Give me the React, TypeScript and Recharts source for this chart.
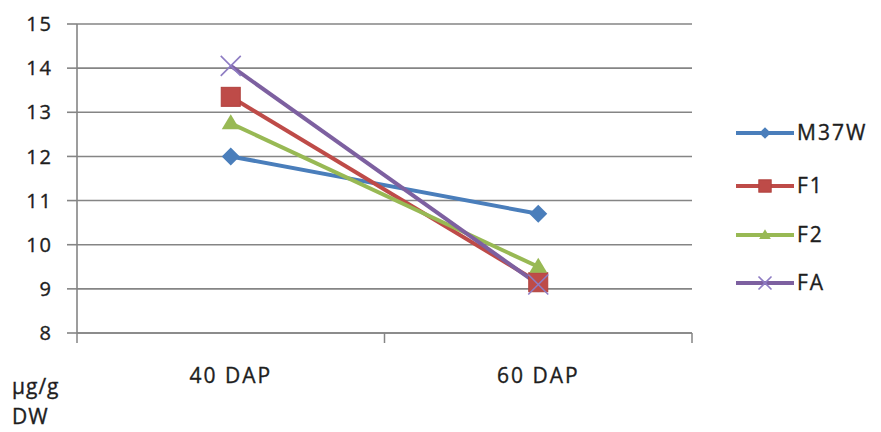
import { LineChart, Line, XAxis, YAxis, CartesianGrid } from 'recharts';

const categories = ['40 DAP', '60 DAP'];
const m37w = [12.0, 10.7];
const f1 = [13.35, 9.15];
const f2 = [12.75, 9.5];
const fa = [14.05, 9.1];
const yTicks = [8, 9, 10, 11, 12, 13, 14, 15];

type Shape = 'diamond' | 'square' | 'triangle' | 'cross';

const series: { key: string; name: string; color: string; shape: Shape; values: number[] }[] = [
  { key: 'm37w', name: 'M37W', color: '#4A7EBB', shape: 'diamond', values: m37w },
  { key: 'f1', name: 'F1', color: '#BE4B48', shape: 'square', values: f1 },
  { key: 'f2', name: 'F2', color: '#98B954', shape: 'triangle', values: f2 },
  { key: 'fa', name: 'FA', color: '#7D60A0', shape: 'cross', values: fa },
];

// each category sits in the middle of its band, so the band edges get the tick marks
const rows = categories.map((label, i) => {
  const row: Record<string, number | string> = { pos: i + 0.5, label };
  series.forEach(s => {
    row[s.key] = s.values[i];
  });
  return row;
});

const FONT = '"Open Sans", sans-serif';
const GRID = '#858585';
const TEXT = '#1e1e1e';
const textStyle = { fontFamily: FONT, fontSize: 21, letterSpacing: 2, fill: TEXT, stroke: TEXT, strokeWidth: 0.35 };

function Marker({ cx, cy, shape, color, scale = 1 }: { cx: number; cy: number; shape: Shape; color: string; scale?: number }) {
  const r = 9 * scale;
  if (shape === 'diamond') {
    return <polygon points={`${cx},${cy - r} ${cx + r},${cy} ${cx},${cy + r} ${cx - r},${cy}`} fill={color} />;
  }
  if (shape === 'square') {
    const h = 9.5 * scale;
    return <rect x={cx - h} y={cy - h} width={h * 2} height={h * 2} fill={color} stroke="#B0403D" strokeWidth={1} />;
  }
  if (shape === 'triangle') {
    return <polygon points={`${cx},${cy - r} ${cx + r},${cy + 6 * scale} ${cx - r},${cy + 6 * scale}`} fill={color} />;
  }
  const c = 10 * scale;
  return (
    <g stroke="#8E7CC3" strokeWidth={1.6}>
      <line x1={cx - c} y1={cy - c} x2={cx + c} y2={cy + c} />
      <line x1={cx - c} y1={cy + c} x2={cx + c} y2={cy - c} />
    </g>
  );
}

function BottomTick(props: any) {
  const { x, y, payload } = props;
  const v = payload.value as number;
  if (Number.isInteger(v)) {
    return <line x1={x} y1={y} x2={x} y2={y + 10} stroke={GRID} strokeWidth={1.5} />;
  }
  return (
    <text x={x} y={y + 50} textAnchor="middle" {...textStyle}>
      {categories[Math.floor(v)]}
    </text>
  );
}

function LegendBox() {
  const rowsY = [133, 186, 235, 283];
  return (
    <svg width={160} height={200} style={{ position: 'absolute', left: 730, top: 100 }}>
      {series.map((s, i) => {
        const y = rowsY[i] - 100;
        return (
          <g key={s.key}>
            <line x1={6} y1={y} x2={64} y2={y} stroke={s.color} strokeWidth={4} />
            <Marker cx={35} cy={y} shape={s.shape} color={s.color} scale={0.65} />
            <text x={67} y={y + 7} {...textStyle}>
              {s.name}
            </text>
          </g>
        );
      })}
    </svg>
  );
}

export default function App() {
  return (
    <div style={{ position: 'absolute', left: 0, top: 0, width: 881, height: 432, background: '#fff' }}>
      <LineChart width={881} height={432} data={rows} margin={{ top: 24, right: 189, bottom: 39, left: 0 }}>
        <CartesianGrid horizontal vertical={false} stroke={GRID} strokeWidth={1.6} />
        <XAxis
          dataKey="pos"
          type="number"
          domain={[0, 2]}
          ticks={[0, 0.5, 1, 1.5, 2]}
          interval={0}
          height={60}
          tickSize={0}
          tickMargin={0}
          tickLine={false}
          axisLine={{ stroke: GRID, strokeWidth: 1.6 }}
          tick={<BottomTick />}
        />
        <YAxis
          type="number"
          domain={[8, 15]}
          ticks={yTicks}
          interval={0}
          width={77}
          tickSize={10}
          tickMargin={14}
          tickLine={{ stroke: GRID, strokeWidth: 1.6 }}
          axisLine={{ stroke: GRID, strokeWidth: 1.6 }}
          tick={{ ...textStyle, fontSize: 20 }}
        />
        {series.map(s => (
          <Line
            key={s.key}
            dataKey={s.key}
            name={s.name}
            stroke={s.color}
            strokeWidth={4}
            isAnimationActive={false}
            dot={(p: any) => <Marker key={`${s.key}-${p.index}`} cx={p.cx} cy={p.cy} shape={s.shape} color={s.color} />}
            activeDot={false}
          />
        ))}
      </LineChart>
      <LegendBox />
      <div
        style={{
          position: 'absolute',
          left: 12,
          top: 371,
          fontFamily: FONT,
          fontSize: 21,
          letterSpacing: 1,
          color: TEXT,
          lineHeight: '30px',
          WebkitTextStroke: '0.35px #1e1e1e',
        }}
      >
        <div>µg/g</div>
        <div>DW</div>
      </div>
    </div>
  );
}
